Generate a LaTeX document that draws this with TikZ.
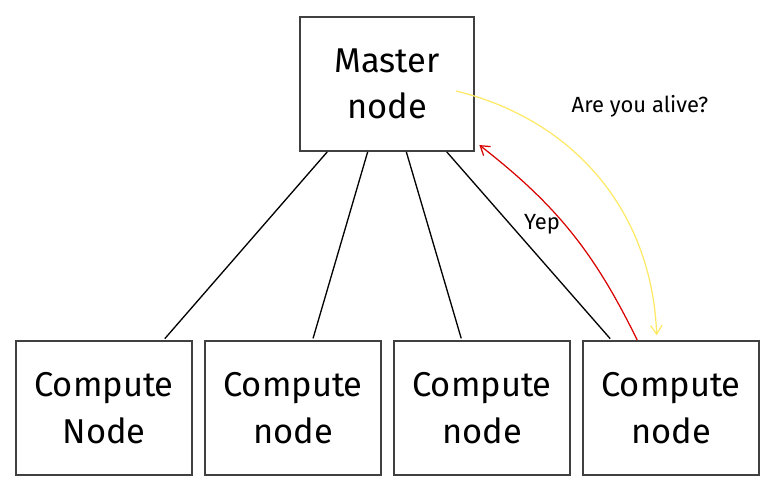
\documentclass[tikz,border=0pt]{standalone}
\usepackage{fontspec}
\setmainfont{Fira Sans}
\usetikzlibrary{arrows.meta,calc}

\tikzset{box/.style={draw=black!75, line width=1.1pt, minimum width=3.52cm, minimum height=2.68cm, align=center, inner sep=0pt, font=\fontsize{19.6}{26.5}\selectfont},
  msg/.style={-{Straight Barb[length=5pt,width=6.5pt]}, line width=0.7pt}}

\begin{document}
\begin{tikzpicture}[x=0.02cm, y=-0.02cm, shorten >=1pt]
\useasboundingbox (0,0) rectangle (775,492);
\coordinate(m) at (387,84);

\node [box, minimum width=3.48cm] (master) at (m) {Master\\node};

\foreach \i/\x/\t in {1/104/Node, 2/293/node, 3/482/node, 4/671/node}
       \node [box] (c\i) at (\x,408) {Compute\\\t};

\foreach \i/\a/\b in {1/0.16/0.835, 2/0.39/0.61, 3/0.61/0.386, 4/0.84/0.165}
       \draw [line width=0.75pt] ($(master.south west)!\a!(master.south east)$) -- ($(c\i.north west)!\b!(c\i.north east)$);

\coordinate(ping) at ($(master.south east)+(-19,-61)$);
\coordinate(pong) at ($(master.south east)+(3,-8)$);

\draw [msg, yellow!80!orange!60] (ping) to [bend left=37] ($(c4.north west)!0.42!(c4.north east)+(0,-3)$);
\draw [msg, red!85!black] ($(c4.north west)!0.31!(c4.north east)$) to [bend right=13] (pong);

\node [font=\fontsize{12.5}{15}\selectfont] (ask) at (640,106) {Are you alive?};
\node [font=\fontsize{12.5}{15}\selectfont] (yep) at (542,224) {Yep};
\end{tikzpicture}
\end{document}
